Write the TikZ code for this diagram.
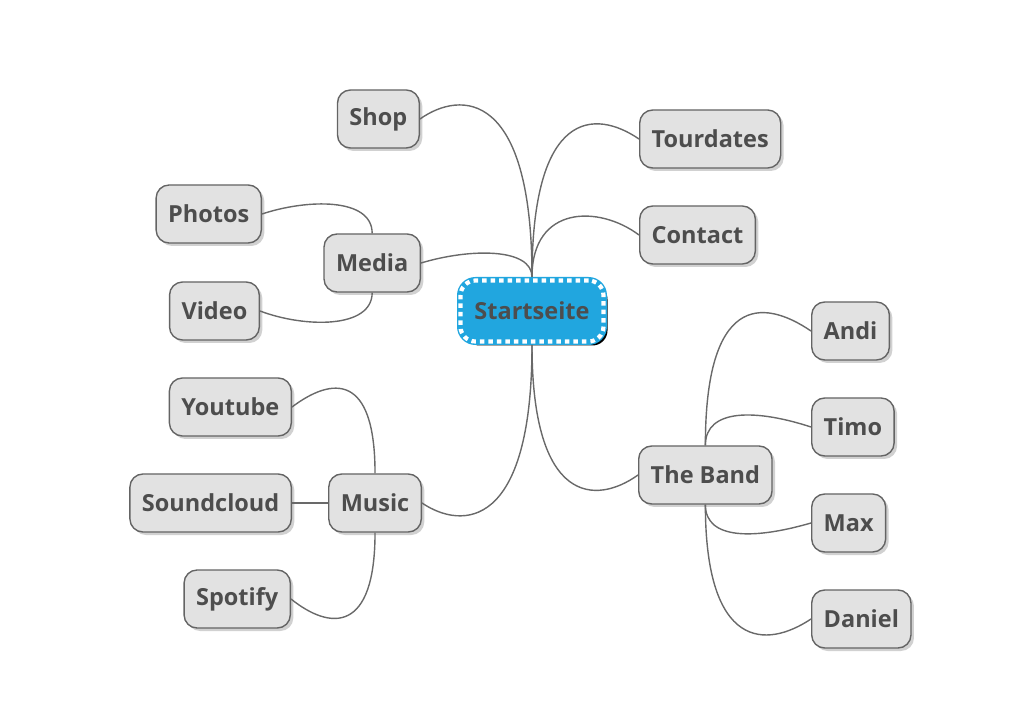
\documentclass[tikz,border=0pt]{standalone}
\usepackage{fontspec}
\setmainfont{Open Sans}
\usetikzlibrary{shadows}

\definecolor{boxfill}{RGB}{226,226,226}
\definecolor{boxline}{RGB}{100,100,100}
\definecolor{textgray}{RGB}{77,77,77}
\definecolor{rootblue}{RGB}{33,166,223}
\definecolor{edgegray}{RGB}{105,105,105}

\tikzset{
  topic/.style={draw=boxline, fill=boxfill, line width=1.4pt, rounded corners=13pt,
    minimum height=58pt, inner xsep=12pt, text=textgray,
    font=\fontsize{23.5}{28}\selectfont\bfseries,
    drop shadow={shadow xshift=3pt, shadow yshift=-3pt, fill=black!30, opacity=.6}},
  roottopic/.style={draw=rootblue, fill=rootblue, line width=7pt, rounded corners=15pt,
    minimum width=143pt, minimum height=61pt, text=textgray,
    font=\fontsize{23.5}{28}\selectfont\bfseries,
    drop shadow={shadow xshift=4pt, shadow yshift=-4pt, fill=black, opacity=1},
    postaction={draw=white, line width=4.2pt, dash pattern=on 4.5pt off 4pt}},
  branch/.style={draw=edgegray, line width=1.4pt}
}

\begin{document}
\begin{tikzpicture}[x=1pt, y=-1pt]
  \useasboundingbox (0,0) rectangle (1010,708);

  % Root
  \node[roottopic] (start) at (532,311) {Startseite};

  % Upper left
  \node[topic, anchor=east] (shop) at (420,119) {Shop};
  \node[topic, anchor=east] (media) at (421,263) {Media};
  \node[topic, anchor=east] (photos) at (262,214) {Photos};
  \node[topic, anchor=east] (video) at (260,311) {Video};

  % Lower left
  \node[topic, anchor=east] (music) at (422,503) {Music};
  \node[topic, anchor=east] (youtube) at (292,407) {Youtube};
  \node[topic, anchor=east] (soundcloud) at (292,503) {Soundcloud};
  \node[topic, anchor=east] (spotify) at (291,599) {Spotify};

  % Right side
  \node[topic, anchor=west] (tourdates) at (639,139) {Tourdates};
  \node[topic, anchor=west] (contact) at (639,235) {Contact};
  \node[topic, anchor=west] (band) at (638,475) {The Band};
  \node[topic, anchor=west] (andi) at (811,331) {Andi};
  \node[topic, anchor=west] (timo) at (811,427) {Timo};
  \node[topic, anchor=west] (max) at (811,523) {Max};
  \node[topic, anchor=west] (daniel) at (811,619) {Daniel};

  % Branches from the root
  \draw[branch] (start.north) .. controls +(0,-187) and +(41,-29) .. (shop.east);
  \draw[branch] (start.north) .. controls +(0,-29) and +(50,-15) .. (media.east);
  \draw[branch] (start.north) .. controls +(0,-168) and +(-44,-30) .. (tourdates.west);
  \draw[branch] (start.north) .. controls +(0,-72) and +(-40,-30) .. (contact.west);
  \draw[branch] (start.south) .. controls +(0,185) and +(40,27) .. (music.east);
  \draw[branch] (start.south) .. controls +(0,160) and +(-42,30) .. (band.west);

  % Media
  \draw[branch] (media.north) .. controls +(0,-36) and +(45,-15) .. (photos.east);
  \draw[branch] (media.south) .. controls +(0,36) and +(45,17) .. (video.east);

  % Music
  \draw[branch] (music.north) .. controls +(0,-101) and +(40,-30) .. (youtube.east);
  \draw[branch] (music.west) -- (soundcloud.east);
  \draw[branch] (music.south) .. controls +(0,100) and +(40,32) .. (spotify.east);

  % The Band
  \draw[branch] (band.north) .. controls +(0,-148) and +(-50,-34) .. (andi.west);
  \draw[branch] (band.north) .. controls +(0,-37) and +(-55,-18) .. (timo.west);
  \draw[branch] (band.south) .. controls +(0,36) and +(-55,16) .. (max.west);
  \draw[branch] (band.south) .. controls +(0,145) and +(-45,30) .. (daniel.west);
\end{tikzpicture}
\end{document}
